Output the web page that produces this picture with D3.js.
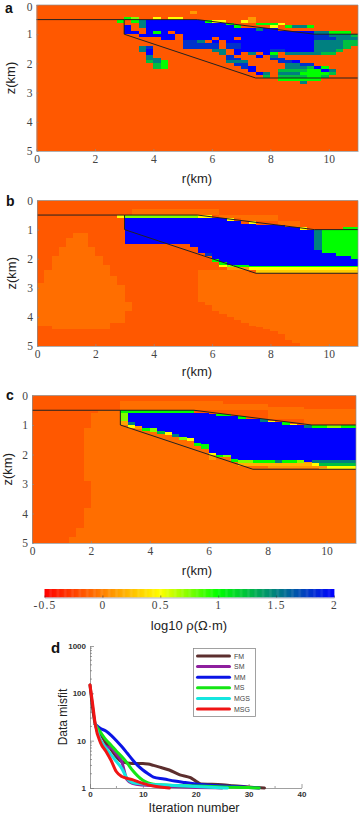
<!DOCTYPE html>
<html><head><meta charset="utf-8">
<script src="https://cdn.jsdelivr.net/npm/d3@7"></script>
<style>html,body{margin:0;padding:0;background:#fff}svg{display:block}</style>
</head><body><svg id="c" width="359" height="815">
<defs><filter id="soft" x="0" y="0" width="1" height="1"><feGaussianBlur stdDeviation="0.4"/></filter></defs>
</svg>
<script>
// value levels, log10 resistivity
const L0=-0.15,L1=-0.07,O=0.1,Y=0.5,YG=0.75,G=1,GT=1.25,T=1.5,D=1.8,B=2;
const modelBoundary=[[0,.5],[3,.5],[3,1],[7.5,2.5],[11,2.5]];
const modelTop=[[3,.5],[5.5,.5],[9.5,1],[11,1]];
const colorDomain=[-0.5,0.5,1,2];
const colorRange=["#ff0000","#ffff00","#00ff00","#0000ff"];
const colorTicks=[-0.5,0,0.5,1,1.5,2];
const colorTickLabels=["-0.5","0","0.5","1","1.5","2"];
const rTicks=[0,2,4,6,8,10];
const zTicks=[0,1,2,3,4,5];
// cells: r0,r1,z0,z1,value
const cellsA=[
[5.25,5.5,.2,.3,O],
[3,3.25,.4,.5,G],[3.25,3.5,.4,.5,YG],[4,4.25,.4,.5,Y],[4.5,5,.4,.5,Y],[7.25,7.5,.4,.5,O],
[2.75,3,.5,.6,G],[3.25,3.5,.5,.6,G],[3.5,3.75,.5,.6,T],[3.75,5.75,.5,.6,B],[5.75,6,.5,.6,G],[6,6.5,.5,.6,Y],[7,7.25,.5,.6,Y],[7.25,7.5,.5,.6,O],
[3.5,3.75,.6,.7,T],[3.75,6.5,.6,.7,B],[6.5,6.75,.6,.7,G],[7.5,8.25,.6,.7,G],[8.25,8.5,.6,.7,Y],
[3.5,3.75,.7,.8,T],[3.75,6.75,.7,.8,B],[6.75,7,.7,.8,G],[8,8.25,.7,.8,Y],[8.5,8.75,.7,.8,G],[8.75,9.25,.7,.8,T],[9.25,9.5,.7,.8,G],
[3,3.25,.7,.8,B],[3,3.25,.8,.9,B],[3.75,7.5,.8,.9,B],[7.5,7.75,.8,.9,T],[7.75,8.25,.8,.9,B],
[3,3.5,.9,1,B],[3.75,4,.9,1,B],[4,4.25,.9,1,G],[4.25,4.5,.9,1,B],[4.75,9.25,.9,1,B],[9.25,9.5,.9,1,B],[9.5,10,.9,1,T],[10,10.75,.9,1,G],
[3.5,4.75,1,1.1,B],[5,5.25,1,1.1,B],[5.25,9.5,1,1.1,B],[9.5,10,1,1.1,D],[10,10.75,1,1.1,T],[10.75,11,1,1.1,GT],
[4.25,4.75,1.1,1.2,B],[5,6,1.1,1.2,B],[6.25,6.75,1.1,1.2,B],[7,9.5,1.1,1.2,B],[9.5,10.25,1.1,1.2,D],[10.25,11,1.1,1.2,T],
[5,5.5,1.2,1.3,D],[5.5,5.75,1.2,1.3,T],[6,6.25,1.2,1.3,B],[6.5,9.5,1.2,1.3,B],[9.5,10.5,1.2,1.3,T],[10.5,11,1.2,1.3,GT],
[5,6.25,1.3,1.5,D],[6.5,7,1.3,1.5,D],[7,9.5,1.3,1.5,B],[9.5,10.5,1.3,1.5,T],[10.5,10.75,1.3,1.5,GT],[10.75,11,1.3,1.4,GT],
[6,6.5,1.5,1.6,T],[6.75,7.25,1.5,1.6,B],[7.25,8,1.5,1.6,B],[8,8.5,1.5,1.6,D],[8.5,9.5,1.5,1.6,B],[9.5,10.25,1.5,1.6,T],[10.25,10.5,1.5,1.6,GT],
[6.25,6.5,1.6,1.7,T],[6.75,7,1.6,1.7,B],[7.25,7.5,1.6,1.7,T],[7.75,8,1.6,1.7,B],[8,8.25,1.6,1.7,G],[8.5,9.75,1.6,1.7,T],[9.75,10.25,1.6,1.7,GT],
[6.5,6.75,1.7,1.8,D],[7.5,7.75,1.7,1.8,B],[8,8.25,1.7,1.8,T],
[6.5,7,1.8,1.9,D],[8,8.5,1.8,1.9,D],
[6.5,7.25,1.9,2,T],[8.25,8.75,1.9,2,D],[8.75,9,1.9,2,B],
[6.75,7.25,2,2.1,D],[8.5,9,2,2.1,T],[9,9.5,2,2.1,D],
[7,7.25,2.1,2.2,D],[7.25,7.5,2.1,2.2,B],[8.5,9.25,2.1,2.2,T],[9.25,9.5,2.1,2.2,GT],[9.5,9.75,2.1,2.2,B],[9.75,10,2.1,2.2,G],
[7.25,7.5,2.2,2.3,B],[8.25,9.25,2.2,2.3,GT],[9.25,9.75,2.2,2.3,G],[9.75,10,2.2,2.3,B],[10,10.25,2.2,2.3,T],
[7.5,7.75,2.3,2.4,B],[8.25,9,2.3,2.4,T],[9,10,2.3,2.4,G],[10,10.25,2.3,2.4,GT],
[7.75,8,2.3,2.4,T],[7.75,8,2.4,2.5,GT],[8.25,9.25,2.4,2.5,GT],[9.25,9.75,2.4,2.5,G],[9.75,10,2.4,2.5,GT],
[8.25,9.75,2.5,2.6,G],[9,9.25,2.6,2.7,T],
[3.5,3.75,1.4,1.5,T],[3.75,4,1.4,1.5,D],
[3.5,3.75,1.5,1.6,T],[3.75,4,1.5,1.7,B],
[3.75,4,1.7,1.8,T],[3.75,4.25,1.8,1.9,T],[3.75,4,1.9,2,GT],[4,4.25,1.9,2,T],[4.25,4.5,1.9,2,G],
[4,4.25,2,2.2,GT],[4.25,4.5,2,2.2,G]
];
const cellsB=[
// lighter hill, left
[0,.25,2.85,4.3,L1],[.25,.5,2.4,4.3,L1],[.5,.75,1.9,4.4,L1],[.75,1,1.6,4.4,L1],[1,1.25,1.3,4.4,L1],[1.25,1.75,1.1,4.4,L1],[1.75,2,1.6,4.4,L1],[2,2.25,1.9,4.4,L1],[2.25,2.5,2.2,4.4,L1],[2.5,2.75,2.6,4.2,L1],[2.75,3,2.9,4.2,L1],[3,3.25,3.5,3.8,L1],
// lighter zone, right
[5.5,5.75,2.4,3.5,L1],[5.75,6,2.4,3.6,L1],[6,6.25,2.4,3.8,L1],[6.25,6.5,2.4,3.9,L1],[6.5,6.75,2.4,4,L1],[6.75,7,2.4,4.1,L1],[7,7.25,2.4,4.2,L1],[7.25,7.5,2.5,4.3,L1],[7.5,7.75,2.5,4.35,L1],[7.75,8,2.5,4.4,L1],[8,8.25,2.5,4.5,L1],[8.25,8.5,2.5,4.6,L1],[8.5,8.75,2.5,4.8,L1],[8.75,9,2.5,4.9,L1],[9,11,2.5,5,L1],
// lighter cap
[3.25,6.25,.3,.5,L1],[6.25,7,.5,.6,L1],[7,8.25,.5,.7,L1],[8.25,9,.7,.9,L1],
// blue body
[3,5.25,.6,1.5,B],[5.25,5.5,.6,1.6,B],[5.5,6,.6,1.8,B],[6,6.25,.6,2,B],[6.25,6.5,.6,2.1,B],[6.5,7,.7,2.2,B],[7,7.5,.8,2.3,B],[7.5,8.5,.85,2.25,B],[8.5,9,.9,2.25,B],[9,9.5,1,2.25,B],
// resistive right side
[9.5,9.75,1,1.7,T],[9.5,9.75,1.7,2.25,B],[9.75,10,1,1.8,G],[9.75,10,1.8,2.25,B],[10,10.25,1,1.8,G],[10,10.25,1.8,2.25,B],[10.25,10.5,1,1.9,G],[10.25,10.5,1.9,2.25,B],[10.5,10.75,.9,1.9,G],[10.5,10.75,1.9,2.25,B],[10.75,11,.9,2,G],[10.75,11,2,2.25,B],
// top edge
[2.75,3,.5,.6,Y],[3,5.5,.5,.6,YG],[5.5,6,.5,.6,Y],[6.5,6.75,.6,.7,Y],[7.25,7.5,.7,.8,Y],[9,9.25,.9,1,Y],
// lower edge
[5.75,6,1.8,1.9,D],[6,6.25,2,2.1,G],[6.25,6.5,2.1,2.2,G],[6.25,6.5,2.2,2.3,Y],[6.5,6.75,2.2,2.3,YG],[6.5,7.25,2.3,2.4,O],[6.75,7.25,2.2,2.3,G],[7.25,7.5,2.3,2.4,Y],
[7.25,11,2.25,2.3,G],[7.25,11,2.3,2.4,Y],[7.5,11,2.4,2.5,.3]
];
const cellsC=[
// lighter zone
[1.25,1.5,4.8,5,L1],[1.5,1.75,4.5,5,L1],[1.75,2,1.1,2.9,L1],[1.75,2,3.8,5,L1],[2,2.25,.6,5,L1],[2.25,3,.5,5,L1],[3,11,1,5,L1],[3,6.5,.2,.5,L1],[6.5,8,.3,.5,L1],[8,9.25,.4,.8,L1],[9.25,11,.45,.95,L1],
// body columns
[3,3.25,.5,.6,G],[3,3.25,.6,.7,YG],[3,3.25,.7,.85,YG],[3,3.25,.85,1,.15],
[3.25,3.5,.5,.6,G],[3.25,3.5,.6,.9,B],[3.25,3.5,.9,1,T],[3.25,3.5,1,1.1,Y],
[3.5,5.5,.5,.6,G],[3.5,3.75,.6,1.05,B],[3.5,3.75,1.05,1.15,O],
[3.75,4,.6,1.1,B],[3.75,4,1.1,1.2,G],
[4,4.25,.6,1.1,B],[4,4.25,1.1,1.25,YG],
[4.25,4.5,.6,1.2,B],[4.25,4.5,1.2,1.3,GT],
[4.5,4.75,.6,1.25,B],[4.5,4.75,1.25,1.35,Y],
[4.75,5,.6,1.3,B],[4.75,5,1.3,1.4,T],
[5,5.25,.6,1.4,B],[5,5.25,1.4,1.5,YG],
[5.25,5.5,.6,1.45,B],[5.25,5.5,1.45,1.55,Y],
[5.5,5.75,.6,1.6,B],[5.5,5.75,1.6,1.7,G],
[5.75,6,.6,1.65,B],[5.75,6,1.65,1.8,G],
[6,6.25,.62,1.95,B],[6,6.25,1.95,2,Y],
[6.25,6.5,.7,2,B],[6.25,6.5,2,2.1,G],[6.25,6.75,.62,.7,G],
[6.5,6.75,.7,2,B],[6.5,6.75,2,2.1,YG],
[6.75,7,.7,2.15,B],[6.75,7,2.15,2.25,G],
[7,7.5,.8,2.2,B],[7,7.25,.7,.8,G],[7,7.5,2.2,2.3,YG],
[7.5,7.75,.8,2.2,B],[7.5,8.25,2.2,2.3,G],[7.75,8,.8,.9,T],
[7.75,8,.9,2.2,B],[8,8.5,.9,2.2,B],[8,8.25,.85,.9,Y],[8.25,8.5,2.2,2.3,T],
[8.5,8.75,.9,1,G],[8.5,9.25,1,2.2,B],[8.5,9,2.2,2.3,G],[8.75,9,.95,1,Y],
[9,9.25,2.2,2.3,YG],[9.25,9.5,1,1.1,T],[9.25,9.5,1.1,2.25,B],[9.25,9.5,2.25,2.35,O],
[9.5,11,1.1,2.2,B],[9.5,10,1,1.1,G],[10,10.5,1,1.1,YG],[10.5,11,1,1.1,G],
[9.5,11,2.2,2.3,T],[9.5,9.75,2.3,2.4,Y],[9.75,11,2.3,2.4,GT],[10,11,2.4,2.5,Y],[9.75,10,2.4,2.5,.3],
[7,9.5,2.3,2.4,.2],[8,10,2.4,2.45,.1],
[6,6.25,2,2.2,O]
];
const panels=[
 {label:"a",cells:cellsA,bg:L0,x:[36.5,358],y:[5,151],lx:5,ly:13,zx:11,xl:183},
 {label:"b",cells:cellsB,bg:L0,x:[37,358],y:[200.5,346],lx:6,ly:206,zx:12,xl:376},
 {label:"c",cells:cellsC,bg:L0,x:[32,356],y:[395.5,543],lx:6,ly:400,zx:8,xl:575}
];
// misfit curves
const iterFM=[0,1,2,3,4,5,6,8,10,11,12,13,15,17,19,20,21,23,25,27,29,31,33];
const misfitFM=[150,22,14,9,6.5,4.5,3.6,3.3,3.3,3.2,3,2.8,2.4,1.9,1.65,1.4,1.22,1.2,1.17,1.12,1.07,1.03,1];
const iterSM=[1,2,3,4,5,6,7,8,10,15,20,25];
const misfitSM=[22,10,7.5,7,5.2,3.6,1.5,1.25,1.15,1.08,1.03,1];
const iterMM=[1,2,3,4,5,6,7,8,9,10,11,12,14,16,18,20,25,30,32];
const misfitMM=[22,18,16,13,10,7.5,5.5,4,3,2.4,2,1.7,1.55,1.4,1.3,1.22,1.1,1.03,1];
const iterMS=[1,2,3,4,5,6,7,8,9,10,11,12,15,20,25,30,32];
const misfitMS=[22,15,10.5,8,6,4.6,3.4,2.4,1.8,1.45,1.28,1.2,1.15,1.1,1.05,1.02,1];
const iterMGS=[1,2,3,4,5,6,7,8,10,15,20,26];
const misfitMGS=[22,10,7,5,3.6,2.6,1.6,1.3,1.22,1.15,1.08,1];
const iterMSG=[0,0.5,1,2,3,4,5,6,8,10,12,15];
const misfitMSG=[150,60,22,9,6,3.8,2.2,1.75,1.5,1.25,1.1,1];
const methods=["FM","SM","MM","MS","MGS","MSG"];
const methodColors=["#5c2e2e","#8e1f9e","#0a14e6","#14e614","#14e6e0","#f01414"];
const methodIters=[iterFM,iterSM,iterMM,iterMS,iterMGS,iterMSG];
const methodMisfits=[misfitFM,misfitSM,misfitMM,misfitMS,misfitMGS,misfitMSG];
const iterTicks=[0,10,20,30,40];
const iterMinor=[5,15,25,35];
const misfitTicks=[1,10,100,1000];
const misfitMinor=[2,3,4,5,6,7,8,9,20,30,40,50,60,70,80,90,200,300,400,500,600,700,800,900];

const svg=d3.select("#c");
const color=d3.scaleLinear().domain(colorDomain).range(colorRange).clamp(true);
const serif="'Liberation Serif',serif", sans="'Liberation Sans',Arial,sans-serif";
const gray="#8c8c8c";

panels.forEach((p,i)=>{
  const x=d3.scaleLinear().domain([0,11]).range(p.x);
  const y=d3.scaleLinear().domain([0,5]).range(p.y);
  const g=svg.append("g").attr("filter","url(#soft)");
  g.append("rect").attr("x",p.x[0]).attr("y",p.y[0]).attr("width",p.x[1]-p.x[0]).attr("height",p.y[1]-p.y[0]).attr("fill",color(p.bg));
  g.selectAll("rect.cell").data(p.cells).join("rect").attr("class","cell")
    .attr("x",d=>x(d[0])).attr("y",d=>y(d[2]))
    .attr("width",d=>x(d[1])-x(d[0])).attr("height",d=>y(d[3])-y(d[2]))
    .attr("fill",d=>color(d[4])).attr("shape-rendering","crispEdges");
  const lg=svg.append("g").attr("fill","none").attr("stroke","#222").attr("stroke-width",1);
  const l2=d3.line().x(d=>x(d[0])).y(d=>y(d[1]));
  lg.append("path").attr("d",l2(modelBoundary));
  lg.append("path").attr("d",l2(modelTop));
  const ax=svg.append("g").attr("transform",`translate(0,${p.y[1]})`)
    .call(d3.axisBottom(x).tickValues(rTicks).tickFormat(d3.format("d")).tickSizeInner(-2).tickSizeOuter(0).tickPadding(4));
  const ay=svg.append("g").attr("transform",`translate(${p.x[0]},0)`)
    .call(d3.axisLeft(y).tickValues(zTicks).tickFormat(d3.format("d")).tickSizeInner(-2).tickSizeOuter(0).tickPadding(4));
  [ax,ay].forEach(a=>{
    a.selectAll("text").attr("font-family",serif).attr("font-size",11.5).attr("fill","#444");
    a.selectAll("line,path").attr("stroke",gray).attr("stroke-width",.7);
  });
  if(i===0) ay.selectAll(".tick text").filter(d=>d===0).attr("y",1.7).attr("dy",".32em");
  svg.append("path").attr("d",`M${p.x[0]},${p.y[0]}H${p.x[1]}V${p.y[1]}`).attr("fill","none").attr("stroke",gray).attr("stroke-width",.7);
  svg.append("text").text(p.label).attr("x",p.lx).attr("y",p.ly).attr("font-family",sans).attr("font-weight","bold").attr("font-size",14).attr("fill","#111");
  svg.append("text").text("z(km)").attr("transform",`translate(${p.zx+4},${(p.y[0]+p.y[1])/2}) rotate(-90)`).attr("text-anchor","middle").attr("font-family",sans).attr("font-size",13).attr("fill","#222");
  svg.append("text").text("r(km)").attr("x",197).attr("y",p.xl).attr("text-anchor","middle").attr("font-family",sans).attr("font-size",13).attr("fill","#222");
});

// colour bar
const cx=d3.scaleLinear().domain([-0.5,2]).range([44.5,334]);
const steps=d3.range(0,250);
const stepW=(cx.range()[1]-cx.range()[0])/steps.length;
svg.append("g").selectAll("rect").data(steps).join("rect")
  .attr("x",d=>cx.range()[0]+d*stepW).attr("y",589).attr("width",stepW+.4).attr("height",8.5)
  .attr("fill",d=>color(cx.invert(cx.range()[0]+(d+.5)*stepW)));
const cax=svg.append("g").attr("transform","translate(0,597.5)")
  .call(d3.axisBottom(cx).tickValues(colorTicks).tickFormat((d,i)=>colorTickLabels[i]).tickSizeInner(-2).tickSizeOuter(0).tickPadding(3));
cax.selectAll("path").attr("stroke","#b5b5c5");
cax.selectAll("line").attr("stroke","#333").attr("stroke-width",.6);
cax.selectAll("text").attr("font-family",serif).attr("font-size",11.5).attr("letter-spacing","1.2px").attr("fill","#444");
svg.append("text").text("log10 ρ(Ω·m)").attr("x",189).attr("y",630).attr("text-anchor","middle").attr("font-family",sans).attr("font-size",13).attr("fill","#222");

// misfit panel
const ix=d3.scaleLinear().domain([0,40]).range([90,301.5]);
const my=d3.scaleLog().domain([1,1000]).range([788,646]);
const dxa=svg.append("g").attr("transform","translate(0,788)")
  .call(d3.axisBottom(ix).tickValues(iterTicks).tickSizeInner(-4).tickSizeOuter(0).tickPadding(3).tickFormat(d3.format("d")));
dxa.selectAll("line.minor").data(iterMinor).join("line").attr("class","minor").attr("x1",d=>ix(d)).attr("x2",d=>ix(d)).attr("y1",0).attr("y2",-2);
const dya=svg.append("g").attr("transform","translate(90,0)")
  .call(d3.axisLeft(my).tickValues(misfitTicks).tickSizeInner(-4).tickSizeOuter(0).tickPadding(4).tickFormat(d3.format("d")));
dya.selectAll("line.minor").data(misfitMinor).join("line").attr("class","minor").attr("x1",0).attr("x2",2).attr("y1",d=>my(d)).attr("y2",d=>my(d));
[dxa,dya].forEach(a=>{
  a.selectAll("line,path").attr("stroke","#777").attr("stroke-width",.7);
  a.selectAll("text").attr("font-family",sans).attr("font-weight","bold").attr("font-size",8).attr("fill","#333");
});
const mline=d3.line().x(d=>ix(d[0])).y(d=>my(d[1])).curve(d3.curveMonotoneX);
methods.forEach((m,i)=>{
  const pts=d3.zip(methodIters[i],methodMisfits[i]);
  svg.append("path").attr("d",mline(pts)).attr("fill","none").attr("stroke",methodColors[i]).attr("stroke-width",3).attr("stroke-linejoin","round").attr("stroke-linecap","round");
});
svg.append("text").text("d").attr("x",51).attr("y",653).attr("font-family",sans).attr("font-weight","bold").attr("font-size",15).attr("fill","#111");
svg.append("text").text("Data misfit").attr("transform","translate(67,717) rotate(-90)").attr("text-anchor","middle").attr("font-family",sans).attr("font-size",12).attr("fill","#222");
svg.append("text").text("Iteration number").attr("x",194).attr("y",811.5).attr("text-anchor","middle").attr("font-family",sans).attr("font-size",12.5).attr("fill","#222");
// legend
svg.append("rect").attr("x",193.5).attr("y",648.5).attr("width",62).attr("height",68).attr("fill","#fff").attr("stroke","#8a8a8a").attr("stroke-width",.8);
const legY=d3.scalePoint().domain(methods).range([656,709]);
methods.forEach((m,i)=>{
  svg.append("line").attr("x1",197.5).attr("x2",229.5).attr("y1",legY(m)).attr("y2",legY(m)).attr("stroke",methodColors[i]).attr("stroke-width",3).attr("stroke-linecap","round");
  svg.append("text").text(m).attr("x",234).attr("y",legY(m)+2.5).attr("font-family",sans).attr("font-size",7).attr("fill","#444");
});
</script></body></html>
